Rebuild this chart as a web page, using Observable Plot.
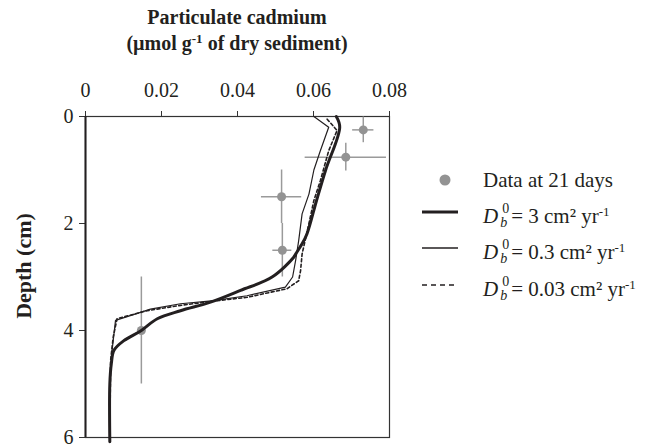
<!DOCTYPE html>
<html>
<head>
<meta charset="utf-8">
<script src="https://cdn.jsdelivr.net/npm/d3@7"></script>
<script src="https://cdn.jsdelivr.net/npm/@observablehq/plot@0.6"></script>
<style>
  html, body { margin: 0; padding: 0; background: #fff; }
  #wrap { position: relative; width: 650px; height: 448px; font-family: "Liberation Serif", "DejaVu Serif", serif; color: #231f20; }
  #wrap svg.plot { position: absolute; left: 0; top: 0; }
  .title { position: absolute; left: 85px; width: 304px; text-align: center; font-weight: bold; font-size: 20px; line-height: 22px; white-space: nowrap; }
  .ylab { position: absolute; left: 24px; top: 266px; transform: translate(-50%, -50%) rotate(-90deg); font-weight: bold; font-size: 22px; white-space: nowrap; }
  .leg { position: absolute; font-size: 21px; white-space: nowrap; line-height: 20px; }
  .ss { position: relative; display: inline-block; width: 13px; height: 1em; }
  .ss .p { position: absolute; left: 4px; top: 0px; font-size: 14px; line-height: 13px; }
  .ss .b { position: absolute; left: 2px; top: 14px; font-size: 14px; line-height: 13px; font-style: italic; }
  sup.s { font-size: 13px; vertical-align: 7px; line-height: 0; }
</style>
</head>
<body>
<div id="wrap"></div>
<script>
// Observations (data at 21 days)
const obsDepth    = [0.25, 0.76, 1.5, 2.5, 4.0];
const obsCd       = [0.0731, 0.0685, 0.0516, 0.0518, 0.0147];
const obsCdErr    = [0.0028, 0.0107, 0.0053, 0.0025, 0];
const obsDepthErr = [0.24, 0.26, 0.5, 0.5, 1.0];

// Model, Db0 = 3 cm2/yr (thick)
const thickDepth = [0, 0.2, 1.0, 1.57, 2.19, 2.38, 2.57, 2.63, 3.0, 3.25, 3.47, 3.63, 3.78, 4.0, 4.19, 4.37, 4.62, 5.0, 6.08];
const thickCd    = [0.066, 0.0669, 0.0632, 0.0608, 0.0583, 0.057, 0.0553, 0.0548, 0.0491, 0.0408, 0.0329, 0.025, 0.0189, 0.0147, 0.0101, 0.0075, 0.0068, 0.0064, 0.0064];

// Model, Db0 = 0.3 cm2/yr (thin)
const thinDepth = [0, 0.2, 0.64, 1.0, 1.45, 1.82, 2.32, 2.69, 3.0, 3.19, 3.35, 3.44, 3.5, 3.6, 3.81, 4.37, 5.0, 6.08];
const thinCd    = [0.0601, 0.064, 0.0618, 0.0601, 0.0588, 0.057, 0.0561, 0.0553, 0.0545, 0.0526, 0.0425, 0.0338, 0.025, 0.0171, 0.0079, 0.007, 0.0064, 0.0064];

// Model, Db0 = 0.03 cm2/yr (dashed)
const dashDepth = [0.05, 0.26, 0.64, 1.2, 1.57, 2.0, 2.57, 2.88, 3.07, 3.22, 3.38, 3.45, 3.53, 3.63, 3.78, 4.12, 4.56, 6.08];
const dashCd    = [0.0636, 0.0662, 0.064, 0.0618, 0.0601, 0.0588, 0.057, 0.0566, 0.0561, 0.053, 0.0425, 0.0338, 0.025, 0.0162, 0.0083, 0.0073, 0.0066, 0.0064];

const xTicks = [0, 0.02, 0.04, 0.06, 0.08];
const yTicks = [0, 2, 4, 6];

const toRows = (ds, xs) => ds.map((d, i) => ({depth: d, cd: xs[i]}));
const obs = obsDepth.map((d, i) => ({depth: d, cd: obsCd[i], ex: obsCdErr[i], ey: obsDepthErr[i]}));

const plot = Plot.plot({
  width: 650,
  height: 448,
  marginTop: 116,
  marginLeft: 85,
  marginRight: 261,
  marginBottom: 11,
  style: {fontFamily: "Liberation Serif, serif", fontSize: "20px", color: "#231f20", background: "transparent"},
  x: {domain: [0, 0.08], axis: null},
  y: {domain: [0, 6], reverse: true, axis: null},
  marks: [
    Plot.frame({stroke: "#333", strokeWidth: 1.2}),
    Plot.axisX(xTicks, {anchor: "top", tickSize: 6, tickPadding: 14, tickFormat: d => d === 0 ? "0" : d.toFixed(2), stroke: "#333", label: null, fontSize: 20}),
    Plot.axisY(yTicks, {anchor: "left", tickSize: 6, tickPadding: 6, tickFormat: d => String(d), stroke: "#333", label: null, fontSize: 20}),
    Plot.ruleX([0], {stroke: "#231f20", strokeWidth: 2}),
    // error bars
    Plot.ruleY(obs.filter(d => d.ex > 0), {y: "depth", x1: d => d.cd - d.ex, x2: d => d.cd + d.ex, stroke: "#9a9a9a", strokeWidth: 1.5}),
    Plot.ruleX(obs, {x: "cd", y1: d => d.depth - d.ey, y2: d => d.depth + d.ey, stroke: "#9a9a9a", strokeWidth: 1.5}),
    Plot.dot(obs, {x: "cd", y: "depth", r: 4.5, fill: "#939393", stroke: "none"}),
    // model lines
    Plot.line(toRows(thinDepth, thinCd), {x: "cd", y: "depth", stroke: "#231f20", strokeWidth: 1.2, curve: "linear"}),
    Plot.line(toRows(dashDepth, dashCd), {x: "cd", y: "depth", stroke: "#231f20", strokeWidth: 1.6, strokeDasharray: "3,2.5", curve: "linear"}),
    Plot.line(toRows(thickDepth, thickCd), {x: "cd", y: "depth", stroke: "#231f20", strokeWidth: 3, curve: "catmull-rom"})
  ]
});
plot.classList.add("plot");
const wrap = document.getElementById("wrap");
wrap.appendChild(plot);

const dLabel = `<i>D</i><span class="ss"><span class="p">0</span><span class="b">b</span></span>`;
const html = `
  <div class="title" style="top:6px">Particulate cadmium</div>
  <div class="title" style="top:32px">(µmol g<sup class="s">-1</sup> of dry sediment)</div>
  <div class="ylab">Depth (cm)</div>
  <svg width="650" height="448" style="position:absolute;left:0;top:0;pointer-events:none">
    <circle cx="445" cy="180" r="5.5" fill="#939393"/>
    <line x1="422" x2="458" y1="212" y2="212" stroke="#231f20" stroke-width="3"/>
    <line x1="422" x2="458" y1="248" y2="248" stroke="#231f20" stroke-width="1.3"/>
    <line x1="422" x2="458" y1="285" y2="285" stroke="#231f20" stroke-width="1.5" stroke-dasharray="5,4"/>
  </svg>
  <div class="leg" style="left:483px;top:170px">Data at 21 days</div>
  <div class="leg" style="left:483px;top:202px">${dLabel}= 3 cm² yr<sup class="s">-1</sup></div>
  <div class="leg" style="left:483px;top:238px">${dLabel}= 0.3 cm² yr<sup class="s">-1</sup></div>
  <div class="leg" style="left:483px;top:275px">${dLabel}= 0.03 cm² yr<sup class="s">-1</sup></div>
`;
wrap.insertAdjacentHTML("beforeend", html);
</script>
</body>
</html>
